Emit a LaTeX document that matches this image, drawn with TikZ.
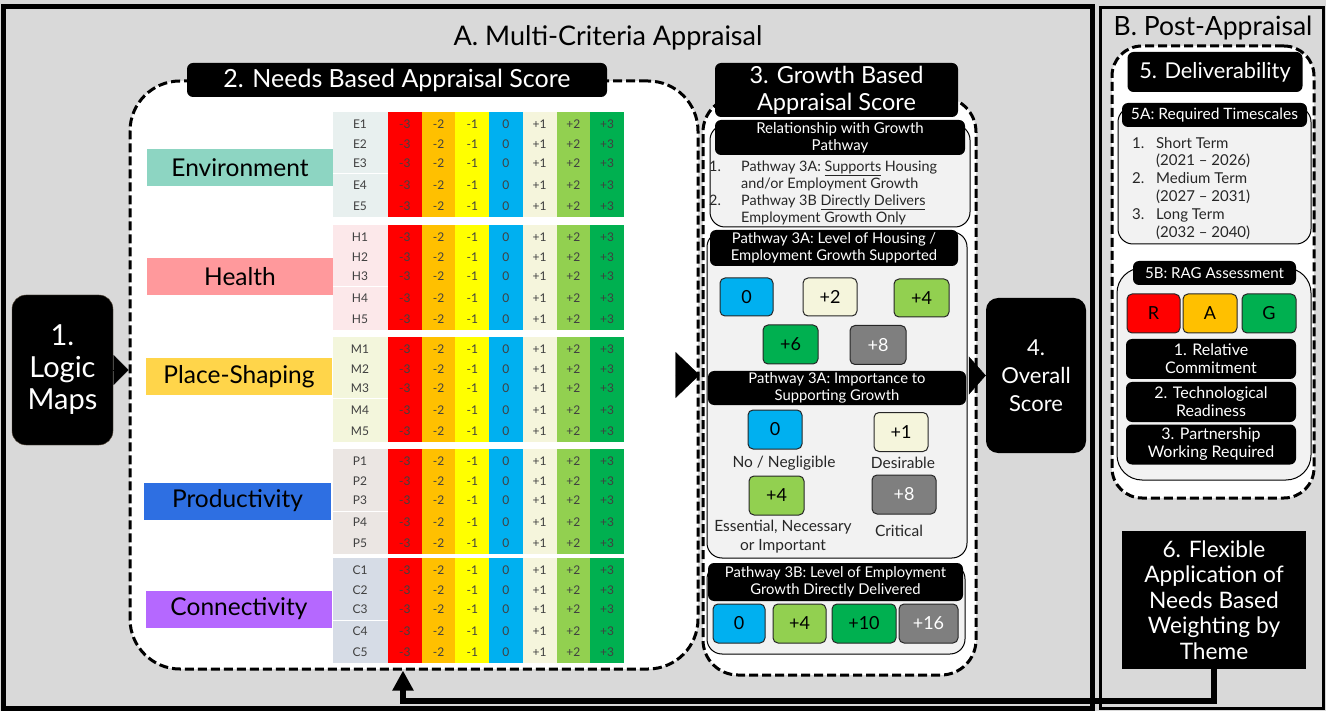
\documentclass[tikz,border=0pt]{standalone}
\usepackage{fontspec}
\setmainfont{Lato}
\usetikzlibrary{arrows.meta,positioning}

\definecolor{bggrey}{HTML}{D9D9D9}
\definecolor{panelgrey}{HTML}{F2F2F2}
\definecolor{sred}{HTML}{FF0000}
\definecolor{sorange}{HTML}{FFC000}
\definecolor{syellow}{HTML}{FFFF00}
\definecolor{sblue}{HTML}{00B0F0}
\definecolor{scream}{HTML}{F5F5DC}
\definecolor{slgreen}{HTML}{92D050}
\definecolor{sgreen}{HTML}{00B050}
\definecolor{sgrey}{HTML}{7F7F7F}
\definecolor{envcol}{HTML}{8DD5C2}
\definecolor{healthcol}{HTML}{FF999C}
\definecolor{placecol}{HTML}{FFD54A}
\definecolor{prodcol}{HTML}{2E6FE2}
\definecolor{conncol}{HTML}{B568FF}
\definecolor{codeE}{HTML}{E8F0EF}
\definecolor{codeH}{HTML}{FCE8EA}
\definecolor{codeM}{HTML}{F3F6DC}
\definecolor{codeP}{HTML}{EBE6E3}
\definecolor{codeC}{HTML}{D6DCE6}
\definecolor{logicbrown}{HTML}{5E5040}

\newcommand{\fsz}[2]{\fontsize{#1}{#2}\selectfont}

\begin{document}
\begin{tikzpicture}[x=1pt, y=-1pt,
    hdr/.style={fill=black, text=white, rounded corners=6pt, align=center, inner sep=0pt},
    dashbox/.style={draw, fill=white, line width=3pt, dash pattern=on 9pt off 4pt, inner sep=0pt},
    panel/.style={draw, fill=panelgrey, line width=1pt, rounded corners=15pt, inner sep=0pt},
    btn/.style={draw=black!85, rounded corners=5pt, line width=1pt, minimum width=53pt, minimum height=38pt, inner sep=0pt, font=\fsz{18}{18}},
    theme/.style={minimum width=186pt, minimum height=37pt, inner sep=0pt, font=\fsz{24.5}{24.5}},
    cell/.style={inner sep=0pt, text=black!75, font=\fsz{12}{12}},
    lbl/.style={inner sep=0pt, align=center, text=black!85, font=\fsz{15.5}{19}}]

    % Background and frames
    \fill[bggrey] (0,0) rectangle (1326,711);
    \useasboundingbox (0,0) rectangle (1326,711);
    \draw[line width=5pt] (3,7) rectangle (1092,708);
    \draw[line width=3pt] (1100,8) rectangle (1323,708);
    \node[font=\fsz{27}{30}] (titleA) at (608,38) {A. Multi-Criteria Appraisal};
    \node[font=\fsz{26.5}{30}] (titleB) at (1213,28) {B. Post-Appraisal};

    % 1. Logic maps
    \node[hdr, draw=logicbrown, rounded corners=14pt, minimum width=101pt, minimum height=150pt, font=\fsz{29}{32}] (logic) at (62.5,370) {1.\\Logic\\Maps};

    % 2. Needs based appraisal score
    \node[dashbox, minimum width=568pt, minimum height=588pt, rounded corners=50pt] (needs) at (414,375) {};
    \node[hdr, minimum width=420pt, minimum height=34pt, font=\fsz{25}{28}] (needshdr) at (397,80) {2. Needs Based Appraisal Score};

    \node[theme, fill=envcol] (env) at (240,168) {Environment};
    \node[theme, fill=healthcol] (health) at (240,277) {Health};
    \node[theme, fill=placecol] (place) at (239,377) {Place-Shaping};
    \node[theme, fill=prodcol, minimum width=187pt] (prod) at (237.5,501) {Productivity};
    \node[theme, fill=conncol] (conn) at (239,609) {Connectivity};

    \foreach \g/\gy/\gc in {E/112/codeE, H/225/codeH, M/337/codeM, P/449/codeP, C/558/codeC} {
        \fill[\gc] (333,\gy) rectangle (388,\gy+105);
        \draw[white, line width=1pt] (333,\gy+62) -- (388,\gy+62);
        \foreach \k/\col/\val in {0/sred/-3, 1/sorange/-2, 2/syellow/-1, 3/sblue/0, 4/scream/+1, 5/slgreen/+2, 6/sgreen/+3} {
            \fill[\col] (388+33.7*\k,\gy) rectangle (421.7+33.7*\k,\gy+105);
            \foreach \rw/\dy in {1/12, 2/32, 3/51, 4/73, 5/94}
                \node[cell] (\g\rw-\k) at (404.85+33.7*\k,\gy+\dy) {\val};
        }
        \foreach \rw/\dy in {1/12, 2/32, 3/51, 4/73, 5/94}
            \node[cell] (\g\rw) at (360,\gy+\dy) {\g\rw};
    }

    % 3. Growth based appraisal score
    \node[dashbox, minimum width=273pt, minimum height=578pt, rounded corners=35pt] (growth) at (839.5,386) {};
    \node[hdr, minimum width=243pt, minimum height=54pt, font=\fsz{23.5}{27}] (growthhdr) at (836.5,90) {3. Growth Based\\Appraisal Score};

    \node[panel, minimum width=260pt, minimum height=102pt] (relpanel) at (840,176) {};
    \node[hdr, minimum width=250pt, minimum height=35pt, font=\fsz{15}{17}] (relhdr) at (840,137.5) {Relationship with Growth\\Pathway};
    \node[anchor=north west, inner sep=0pt, text=black!85, font=\fsz{14.4}{17}] (rellist) at (709,159) {%
        \begin{tabular}{@{}p{32pt}@{}l@{}}
        1. & Pathway 3A: \underline{Supports} Housing\\
           & and/or Employment Growth\\
        2. & Pathway 3B \underline{Directly Delivers}\\
           & Employment Growth Only
        \end{tabular}};

    \node[panel, minimum width=260pt, minimum height=326pt] (levelpanel) at (837,395) {};
    \node[hdr, minimum width=248pt, minimum height=36pt, font=\fsz{14.8}{17}] (levelhdr) at (834,248) {Pathway 3A: Level of Housing /\\Employment Growth Supported};
    \node[btn, fill=sblue] (lvl0) at (746.5,297) {0};
    \node[btn, fill=scream, minimum width=54pt] (lvl2) at (830,297) {+2};
    \node[btn, fill=slgreen, minimum width=55pt] (lvl4) at (921.5,298) {+4};
    \node[btn, fill=sgreen, minimum width=55pt, minimum height=39pt] (lvl6) at (790.5,344.5) {+6};
    \node[btn, fill=sgrey, text=white, minimum width=56pt, minimum height=39pt] (lvl8) at (878,345) {+8};

    \node[hdr, minimum width=258pt, minimum height=34pt, font=\fsz{14.8}{17}] (imphdr) at (837,388) {Pathway 3A: Importance to\\Supporting Growth};
    \node[btn, fill=sblue, minimum width=54pt, minimum height=39pt] (imp0) at (775,429.5) {0};
    \node[btn, fill=scream, minimum width=54pt, minimum height=39pt] (imp1) at (901,432) {+1};
    \node[btn, fill=slgreen, minimum width=55pt, minimum height=39pt] (imp4) at (776.5,495.5) {+4};
    \node[btn, fill=sgrey, text=white, minimum width=64pt, minimum height=39pt] (imp8) at (904,494.5) {+8};
    \node[lbl] (imp0lbl) at (784,463) {No / Negligible};
    \node[lbl] (imp1lbl) at (903,463) {Desirable};
    \node[lbl] (imp4lbl) at (783,536.5) {Essential, Necessary\\or Important};
    \node[lbl] (imp8lbl) at (899,531) {Critical};

    \node[panel, minimum width=258pt, minimum height=90pt] (emppanel) at (836,609) {};
    \node[hdr, minimum width=255pt, minimum height=38pt, font=\fsz{14.8}{17}] (emphdr) at (835.5,582) {Pathway 3B: Level of Employment\\Growth Directly Delivered};
    \node[btn, fill=sblue, minimum width=52pt, minimum height=39pt] (emp0) at (739,623.5) {0};
    \node[btn, fill=slgreen, minimum height=39pt] (emp4) at (799.5,623.5) {+4};
    \node[btn, fill=sgreen, minimum width=64pt, minimum height=39pt] (emp10) at (864,623.5) {+10};
    \node[btn, fill=sgrey, text=white, minimum width=59pt, minimum height=39pt] (emp16) at (928.5,623.5) {+16};

    % 4. Overall score
    \node[hdr, rounded corners=12pt, minimum width=100pt, minimum height=155pt, font=\fsz{22}{28}] (overall) at (1036,375.5) {4.\\Overall\\Score};

    % 5. Deliverability
    \node[dashbox, minimum width=202pt, minimum height=452pt, rounded corners=30pt] (deliv) at (1213,272) {};
    \node[hdr, minimum width=175pt, minimum height=40pt, font=\fsz{21.8}{24}] (delivhdr) at (1215,72) {5. Deliverability};

    \node[panel, minimum width=193pt, minimum height=137pt] (timepanel) at (1214.5,175.5) {};
    \node[hdr, minimum width=185pt, minimum height=24pt, font=\fsz{15.6}{17}] (timehdr) at (1214.5,115) {5A: Required Timescales};
    \node[anchor=north west, inner sep=0pt, text=black!85, font=\fsz{15}{17.8}] (timelist) at (1132,135.5) {%
        \begin{tabular}{@{}p{24pt}@{}l@{}}
        1. & Short Term\\
           & (2021 -- 2026)\\
        2. & Medium Term\\
           & (2027 -- 2031)\\
        3. & Long Term\\
           & (2032 -- 2040)
        \end{tabular}};

    \node[panel, rounded corners=25pt, minimum width=194pt, minimum height=212pt] (ragpanel) at (1214,374) {};
    \node[hdr, minimum width=163pt, minimum height=24pt, font=\fsz{15.1}{17}] (raghdr) at (1214.5,273) {5B: RAG Assessment};
    \node[btn, fill=sred, minimum height=39pt] (ragR) at (1153.5,313.5) {R};
    \node[btn, fill=sorange, minimum width=54pt, minimum height=39pt] (ragA) at (1210,313.5) {A};
    \node[btn, fill=sgreen, minimum width=54pt, minimum height=39pt] (ragG) at (1269,313.5) {G};
    \node[hdr, minimum width=170pt, minimum height=40pt, font=\fsz{16}{18}] (commit) at (1211,359) {1. Relative\\Commitment};
    \node[hdr, minimum width=170pt, minimum height=40pt, font=\fsz{16}{18}] (tech) at (1211,402) {2. Technological\\Readiness};
    \node[hdr, minimum width=170pt, minimum height=40pt, font=\fsz{16}{18}] (partner) at (1211,444.5) {3. Partnership\\Working Required};

    % 6. Flexible weighting
    \node[hdr, rounded corners=0pt, minimum width=184pt, minimum height=138pt, font=\fsz{22.7}{25.5}] (flex) at (1214,600) {6. Flexible\\Application of\\Needs Based\\Weighting by\\Theme};

    % Connectors
    \draw[-{Triangle[length=15pt, width=30pt]}] (logic.east) -- (logic.east -| needs.west);
    \draw[-{Triangle[length=24pt, width=46pt]}] ([xshift=-24pt]needs.east) -- (needs.east);
    \draw[-{Triangle[length=17pt, width=38pt]}] ([xshift=-17pt]overall.west) -- (overall.west);
    \coordinate (fbcorner) at (403,701);
    \draw[line width=6pt, -{Triangle[length=20pt, width=20pt]}] (flex.south) |- (fbcorner) -- (fbcorner |- needs.south);
\end{tikzpicture}
\end{document}
